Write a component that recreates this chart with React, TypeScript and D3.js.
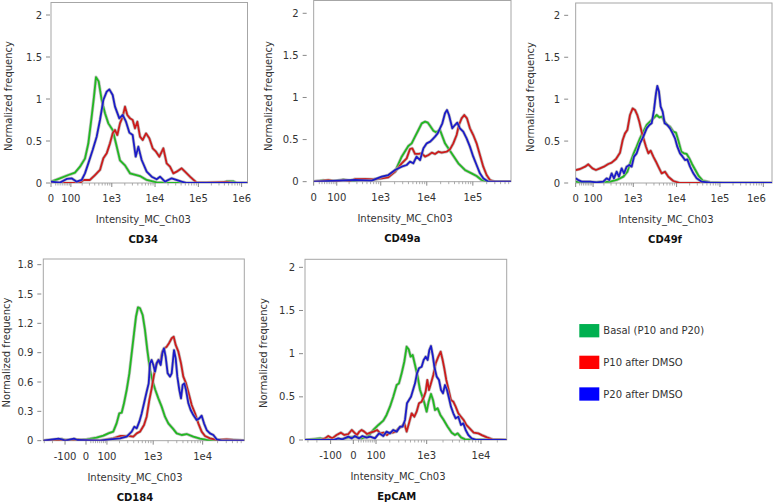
import React from "react";
import * as d3 from "d3";

// ---------------- DATA ----------------
const seriesNames = ["Basal (P10 and P20)", "P10 after DMSO", "P20 after DMSO"];
const panelTitles = ["CD34", "CD49a", "CD49f", "CD184", "EpCAM"];
const axisTitleX = "Intensity_MC_Ch03";
const axisTitleY = "Normalized frequency";

const ticksHigh = [0, 100, 1e3, 1e4, 1e5, 1e6];
const ticksHighLabels = ["0", "100", "1e3", "1e4", "1e5", "1e6"];
const ticksMid = [0, 100, 1e3, 1e4, 1e5];
const ticksMidLabels = ["0", "100", "1e3", "1e4", "1e5"];
const ticksLow = [-100, 0, 100, 1e3, 1e4];
const ticksLowLabels = ["-100", "0", "100", "1e3", "1e4"];
const yTicksA = [0, 0.5, 1, 1.5, 2];
const yTicksALabels = ["0", "0.5", "1", "1.5", "2"];
const yTicksB = [0, 0.3, 0.6, 0.9, 1.2, 1.5, 1.8];
const yTicksBLabels = ["0", "0.3", "0.6", "0.9", "1.2", "1.5", "1.8"];
const minorMultipliers = [2, 3, 4, 5, 6, 7, 8, 9];
const minorDecades = [10, 100, 1000, 10000, 100000];
const minorNegatives = [-200, -300];

// CD34
const cd34GreenX = [0,39,84,130,176,234,282,339,385,429,495,582,696,832,1048,1252,1548,2023,2640,4495,6407,10914,18549,378400,451500,643900,768700,1370000];
const cd34GreenY = [0.016,0.056,0.095,0.123,0.194,0.29,0.47,0.79,1.03,1.26,1.21,0.99,0.83,0.71,0.63,0.47,0.27,0.21,0.115,0.083,0.036,0.008,0,0,0.02,0.02,0,0];
const cd34RedX = [0,176,213,309,406,532,637,762,909,1048,1187,1345,1548,1788,2023,2291,2640,3042,3445,3900,4495,5178,6182,7379,8816,10527,12573,15547,18549,22163,26461,31596,41200,49217,64227,91522,155800,451500,643900,1370000];
const cd34RedY = [0,0,0.036,0.036,0.095,0.155,0.294,0.353,0.472,0.591,0.631,0.571,0.71,0.79,0.909,0.81,0.77,0.75,0.651,0.73,0.552,0.512,0.591,0.532,0.413,0.373,0.313,0.413,0.234,0.194,0.115,0.135,0.175,0.135,0.075,0.004,0.004,0.012,0,0];
const cd34BlueX = [0,39,74,105,145,194,234,282,358,445,532,637,762,878,1048,1187,1496,1788,2133,2548,3042,3571,4112,4910,6407,8362,10914,13031,16985,24206,41200,53760,1370000];
const cd34BlueY = [0.016,0.004,0.048,0.056,0.016,0.036,0.115,0.234,0.393,0.552,0.75,0.988,1.087,1.115,1.048,0.909,0.77,0.81,0.73,0.6,0.571,0.313,0.433,0.274,0.135,0.075,0.044,0.075,0.016,0.056,0.016,0,0];

// CD49a
const cd49aGreenX = [0,35,72,146,229,383,634,1047,1462,2043,2852,3976,4700,5554,6587,7780,9191,10546,11851,13892,15880,19362,24864,34650,48405,67305,93940,120645,154945,216300,674000];
const cd49aGreenY = [0,0.016,0,0.024,0.008,0.024,0.02,0.048,0.071,0.119,0.297,0.424,0.455,0.535,0.614,0.693,0.713,0.701,0.661,0.606,0.586,0.614,0.455,0.337,0.218,0.139,0.099,0.067,0.02,0,0];
const cd49aRedX = [0,29,56,99,146,209,272,452,690,1047,1462,2043,2852,3661,4316,4858,5554,6587,7780,9191,10906,12880,15106,17836,21063,27013,31885,37625,44450,49910,57050,65135,74500,86450,102130,120645,142555,168420,198975,235095,301910,674000];
const cd49aRedY = [0,0.008,0.02,0,0.02,0.008,0.032,0.032,0.028,0.04,0.052,0.119,0.218,0.277,0.388,0.396,0.329,0.329,0.337,0.297,0.317,0.345,0.329,0.356,0.345,0.356,0.384,0.455,0.554,0.673,0.752,0.792,0.752,0.634,0.554,0.455,0.317,0.178,0.079,0.02,0,0];
const cd49aBlueX = [0,272,634,1047,1462,2043,2852,3661,4316,5100,5996,7157,8456,9985,11851,13297,15106,17245,19362,21763,24864,27510,30331,35805,40915,45920,52465,61950,73185,86450,102130,120645,142555,168420,216300,674000];
const cd49aBlueY = [0,0.02,0.012,0.059,0.079,0.139,0.178,0.198,0.238,0.218,0.297,0.257,0.396,0.455,0.475,0.503,0.535,0.574,0.634,0.693,0.812,0.851,0.792,0.634,0.673,0.701,0.634,0.594,0.515,0.416,0.297,0.198,0.099,0.04,0,0];

// CD49f
const cd49fGreenX = [0,79,158,284,409,587,728,869,1039,1197,1430,1707,2039,2435,2905,3470,3996,4605,5300,6110,7040,8404,9675,11150,12850,14800,17050,19650,22635,27025,32260,39885,58890,119570,1585000];
const cd49fGreenY = [0.016,0,0.012,0.016,0.036,0.076,0.135,0.254,0.362,0.433,0.533,0.612,0.692,0.732,0.771,0.811,0.783,0.791,0.732,0.692,0.672,0.612,0.6,0.493,0.374,0.354,0.346,0.294,0.227,0.155,0.084,0.028,0.008,0,0];
const cd49fRedX = [0,22,49,68,95,122,158,200,258,311,394,491,567,642,728,839,968,1095,1240,1380,1560,1767,1966,2228,2520,2905,3346,3788,4521,5396,6439,8404,11976,20379,1585000];
const cd49fRedY = [0.155,0.167,0.195,0.223,0.175,0.155,0.175,0.195,0.227,0.243,0.286,0.362,0.513,0.592,0.632,0.811,0.89,0.871,0.811,0.731,0.612,0.513,0.433,0.354,0.386,0.314,0.254,0.195,0.115,0.135,0.075,0.024,0,0,0];
const cd49fBlueX = [0,13,30,79,128,193,234,272,311,353,409,464,537,608,702,810,917,1039,1197,1430,1707,2039,2350,2660,3008,3346,3591,3920,4286,4766,5300,6110,7040,8103,9174,10387,11976,13780,15604,17663,20379,24300,29010,37826,58890,1585000];
const cd49fBlueY = [0.056,0.036,0.016,0.016,0.008,0.016,0.056,0.036,0.115,0.056,0.135,0.076,0.175,0.115,0.195,0.215,0.195,0.314,0.354,0.473,0.553,0.652,0.692,0.712,0.871,1.07,1.157,1.09,0.911,0.851,0.712,0.692,0.652,0.592,0.533,0.433,0.354,0.314,0.274,0.282,0.195,0.115,0.056,0.016,0.004,0];

// CD184
const cd184GreenX = [-314,-146,-122,-90,-47,-25,3,45,79,109,144,172,198,223,250,285,325,363,406,446,490,539,611,681,760,861,976,1105,1271,1484,1733,2024,2482,2983,3766,4752,6477,8835,12056,69350];
const cd184GreenY = [0,0.007,0.017,0,0.014,0.007,0.014,0.031,0.051,0.075,0.092,0.177,0.28,0.286,0.382,0.518,0.689,0.893,1.098,1.268,1.364,1.354,1.285,1.132,0.927,0.723,0.604,0.518,0.433,0.348,0.245,0.177,0.126,0.075,0.058,0.068,0.041,0.02,0.007,0];
const cd184RedX = [-314,-42,61,144,205,309,393,461,539,651,737,835,931,1039,1140,1271,1373,1531,1681,1874,2086,2367,2596,2851,3230,3652,4066,4611,5218,6002,7005,8175,9548,11150,14062,19184,30536,69350];
const cd184RedY = [0,0.01,0,0.024,0.048,0.048,0.041,0.075,0.092,0.16,0.245,0.416,0.535,0.672,0.774,0.825,0.791,0.91,0.944,0.961,0.996,1.047,1.064,0.979,0.91,0.791,0.655,0.586,0.484,0.365,0.28,0.177,0.092,0.048,0.024,0.007,0.014,0];
const cd184BlueX = [-314,-146,-122,-100,-52,-36,61,120,205,285,363,412,461,522,583,651,737,810,861,931,1007,1088,1176,1292,1418,1531,1655,1787,1962,2190,2367,2637,2851,3078,3380,3652,3943,4265,4611,5138,5720,6477,7560,8562,9548,10640,12056,14062,16420,19184,24200,69350];
const cd184BlueY = [0,0.02,0.014,0,0.02,0.007,0,0.014,0.024,0.041,0.092,0.143,0.126,0.194,0.279,0.382,0.501,0.586,0.791,0.825,0.774,0.706,0.791,0.825,0.774,0.893,0.944,0.859,0.689,0.655,0.689,0.927,0.842,0.655,0.518,0.433,0.57,0.586,0.518,0.382,0.314,0.262,0.211,0.228,0.256,0.177,0.109,0.075,0.058,0.014,0,0];

// EpCAM
const epcamGreenX = [-341,-172,-147,-94,-46,-19,6,32,61,85,114,147,172,202,235,274,303,341,383,424,463,504,550,608,681,753,831,904,999,1087,1201,1308,1423,1593,1786,2058,2434,2891,3320,3723,4287,5084,29740];
const epcamGreenY = [0,0.019,0.012,0,0.008,0.031,0.039,0.019,0.046,0.116,0.174,0.224,0.29,0.386,0.502,0.637,0.656,0.772,0.907,1.081,1.05,0.965,0.985,0.869,0.734,0.579,0.502,0.432,0.328,0.444,0.533,0.463,0.347,0.367,0.29,0.232,0.154,0.085,0.058,0.077,0.031,0.008,0];
const epcamRedX = [-341,-172,-135,-114,-91,-69,-49,-35,-19,-6,4,14,23,32,43,55,70,87,106,126,150,175,199,228,261,299,341,383,424,469,526,591,652,720,807,891,958,1027,1103,1201,1326,1465,1640,1811,1969,2112,2300,2542,2801,3097,3419,3831,4287,4797,5370,6184,7339,8941,10588,12897,16164,29740];
const epcamRedY = [0,0,0.019,0.046,0.019,0.058,0.085,0.058,0.069,0.116,0.085,0.058,0.097,0.116,0.097,0.069,0.085,0.097,0.116,0.077,0.085,0.058,0.085,0.085,0.097,0.135,0.154,0.193,0.097,0.193,0.309,0.27,0.328,0.425,0.444,0.502,0.56,0.695,0.579,0.656,0.753,0.888,0.965,1.023,0.927,0.83,0.695,0.579,0.463,0.444,0.386,0.309,0.27,0.232,0.174,0.135,0.085,0.077,0.054,0.031,0.008,0];
const epcamBlueX = [-341,-159,-85,-61,-43,-19,-6,6,22,35,53,69,94,118,147,172,202,235,274,317,355,395,430,469,512,558,608,662,720,807,879,958,1043,1118,1201,1290,1384,1529,1687,1837,1999,2177,2370,2581,2801,3097,3419,3831,4287,4731,5226,5848,6733,8324,29740];
const epcamBlueY = [0,0,0,0.019,0.008,0.039,0.019,0.046,0.019,0.046,0.027,0.039,0.019,0.077,0.046,0.097,0.077,0.116,0.097,0.154,0.154,0.232,0.425,0.463,0.502,0.579,0.656,0.772,0.83,0.849,0.927,0.965,0.927,1.042,1.089,0.985,0.849,0.734,0.695,0.579,0.541,0.637,0.579,0.483,0.386,0.309,0.251,0.27,0.174,0.193,0.116,0.058,0.019,0,0];

// axis domains (intensity) per panel
const xDomains = [[0, 1367000], [0, 674000], [0, 1585000], [-314.5, 69350], [-341, 29740]];
const yMaxes = [2.149, 2.152, 2.147, 1.858, 2.093];

// ---------------- STYLE / LAYOUT ----------------
const lineColors = ["#22b822", "#cc1c1c", "#1c1cc8"];
const legendColors = ["#00b050", "#ff0000", "#0000ff"];
const FONT = "'DejaVu Sans', Verdana, sans-serif";
const SVG_W = 773;
const SVG_H = 504;

type Layout = {
  left: number; right: number; top: number; bottom: number; c: number;
  labelX: number; titleX: number; yTitleX: number; yTitleY: number; yGap: number;
};
const layouts: Layout[] = [
  { left: 51, right: 247.5, top: 2.5, bottom: 183, c: 79, labelX: 143.3, titleX: 143.3, yTitleX: 8, yTitleY: 96, yGap: 9 },
  { left: 313.67, right: 511, top: 0.5, bottom: 181.67, c: 70, labelX: 405, titleX: 402.3, yTitleX: 268.3, yTitleY: 96, yGap: 15 },
  { left: 575.67, right: 772, top: 3, bottom: 183, c: 94, labelX: 666, titleX: 665, yTitleX: 530, yTitleY: 97, yGap: 15.5 },
  { left: 43.3, right: 244.3, top: 259, bottom: 440.67, c: 88, labelX: 135, titleX: 135, yTitleX: 6.7, yTitleY: 352.5, yGap: 10 },
  { left: 305, right: 506.7, top: 259.3, bottom: 440, c: 89.5, labelX: 398, titleX: 396.7, yTitleX: 263.3, yTitleY: 353, yGap: 10 },
];

const panelSeries = [
  [[cd34GreenX, cd34GreenY], [cd34RedX, cd34RedY], [cd34BlueX, cd34BlueY]],
  [[cd49aGreenX, cd49aGreenY], [cd49aRedX, cd49aRedY], [cd49aBlueX, cd49aBlueY]],
  [[cd49fGreenX, cd49fGreenY], [cd49fRedX, cd49fRedY], [cd49fBlueX, cd49fBlueY]],
  [[cd184GreenX, cd184GreenY], [cd184RedX, cd184RedY], [cd184BlueX, cd184BlueY]],
  [[epcamGreenX, epcamGreenY], [epcamRedX, epcamRedY], [epcamBlueX, epcamBlueY]],
];
const panelXTicks = [ticksHigh, ticksMid, ticksHigh, ticksLow, ticksLow];
const panelXTickLabels = [ticksHighLabels, ticksMidLabels, ticksHighLabels, ticksLowLabels, ticksLowLabels];
const panelYTicks = [yTicksA, yTicksA, yTicksA, yTicksB, yTicksA];
const panelYTickLabels = [yTicksALabels, yTicksALabels, yTicksALabels, yTicksBLabels, yTicksALabels];

function makeScales(idx: number) {
  const L = layouts[idx];
  const [xmin, xmax] = xDomains[idx];
  const t = (v: number) => Math.asinh(v / L.c);
  const xs = d3.scaleLinear().domain([t(xmin), t(xmax)]).range([L.left, L.right]);
  const x = (v: number) => xs(t(v));
  const y = d3.scaleLinear().domain([0, yMaxes[idx]]).range([L.bottom, L.top]);
  return { x, y, xmin, xmax };
}

function Panel({ idx }: { idx: number }) {
  const L = layouts[idx];
  const { x, y, xmin, xmax } = makeScales(idx);
  const line = d3
    .line<[number, number]>()
    .x((d) => x(d[0]))
    .y((d) => y(d[1]));

  const minor: number[] = [];
  minorDecades.forEach((dec) =>
    minorMultipliers.forEach((m) => {
      const v = m * dec;
      if (v > xmin && v < xmax) minor.push(v);
    })
  );
  minorNegatives.forEach((v) => {
    if (v > xmin) minor.push(v);
  });

  const clipId = `clip${idx}`;
  const ticks = panelXTicks[idx];
  const yt = panelYTicks[idx];

  return (
    <g>
      <defs>
        <clipPath id={clipId}>
          <rect x={L.left} y={L.top} width={L.right - L.left} height={L.bottom - L.top} />
        </clipPath>
      </defs>
      <rect x={L.left} y={L.top} width={L.right - L.left} height={L.bottom - L.top} fill="#fff" stroke="#a6a6a6" strokeWidth={1} />
      <g>
        {yt.map((v, i) => (
          <line key={i} x1={L.left - L.yGap + 4} x2={L.left - L.yGap + 8} y1={y(v)} y2={y(v)} stroke="#888" strokeWidth={1} />
        ))}
      </g>
      <g>
        {minor.map((v, i) => (
          <line key={i} x1={x(v)} x2={x(v)} y1={L.bottom} y2={L.bottom + 2.5} stroke="#999" strokeWidth={0.8} />
        ))}
      </g>
      <g>
        {ticks.map((v, i) => (
          <line key={i} x1={x(v)} x2={x(v)} y1={L.bottom} y2={L.bottom + 4} stroke="#888" strokeWidth={1} />
        ))}
      </g>
      <g clipPath={`url(#${clipId})`}>
        {panelSeries[idx].map(([sx, sy], si) => {
          const pts = sx.map((v, i) => [v, sy[i]] as [number, number]);
          const d = line(pts) || "";
          return (
            <g key={si}>
              <path d={d} fill="none" stroke="#aaa" strokeOpacity={0.7} strokeWidth={3.2} strokeLinejoin="round" />
              <path d={d} fill="none" stroke={lineColors[si]} strokeWidth={1.8} strokeLinejoin="round" />
            </g>
          );
        })}
      </g>
    </g>
  );
}

function PanelText({ idx }: { idx: number }) {
  const L = layouts[idx];
  const { y } = makeScales(idx);
  const yt = panelYTicks[idx];
  const ytl = panelYTickLabels[idx];
  return (
    <g fontFamily={FONT} fontSize={10} fill="#333">
      {yt.map((v, i) => (
        <text key={"yl" + i} x={L.left - L.yGap} y={y(v) + 3.5} textAnchor="end">
          {ytl[i]}
        </text>
      ))}
      <text x={L.labelX} y={L.bottom + 40} textAnchor="middle">
        {axisTitleX}
      </text>
      <text x={L.titleX} y={L.bottom + 60} textAnchor="middle" fontWeight="bold" fill="#111">
        {panelTitles[idx]}
      </text>
      <text transform={`translate(${L.yTitleX + 3.5},${L.yTitleY}) rotate(-90)`} textAnchor="middle">
        {axisTitleY}
      </text>
    </g>
  );
}

// x tick labels drawn imperatively with d3
function XTickLabels() {
  const ref = React.useRef<SVGGElement>(null);
  React.useEffect(() => {
    if (!ref.current) return;
    const g = d3.select(ref.current);
    g.selectAll("*").remove();
    layouts.forEach((L, idx) => {
      const { x } = makeScales(idx);
      const ticks = panelXTicks[idx];
      const labels = panelXTickLabels[idx];
      ticks.forEach((v, i) => {
        const half = labels[i].length * 3.2;
        const px = Math.min(x(v), SVG_W - 7 - half);
        g.append("text")
          .attr("x", px)
          .attr("y", L.bottom + 19)
          .attr("text-anchor", "middle")
          .text(labels[i]);
      });
    });
  }, []);
  return <g ref={ref} fontFamily={FONT} fontSize={10} fill="#333" />;
}

const legendLayout = { swatchX: 579.3, swatchW: 20, swatchH: 13.3, firstCy: 330.7, step: 31.65, textX: 603.3 };

export default function App() {
  return (
    <svg width={SVG_W} height={SVG_H} style={{ position: "absolute", left: 0, top: 0, background: "#fff" }}>
      <rect x={0} y={0} width={SVG_W} height={SVG_H} fill="#fff" />
      {layouts.map((_, i) => (
        <Panel key={"p" + i} idx={i} />
      ))}
      {layouts.map((_, i) => (
        <PanelText key={"t" + i} idx={i} />
      ))}
      <XTickLabels />
      {seriesNames.map((name, i) => {
        const cy = legendLayout.firstCy + i * legendLayout.step;
        return (
          <g key={name}>
            <rect
              x={legendLayout.swatchX}
              y={cy - legendLayout.swatchH / 2}
              width={legendLayout.swatchW}
              height={legendLayout.swatchH}
              fill={legendColors[i]}
            />
            <text x={legendLayout.textX} y={cy + 3.5} fontSize={10} fill="#333" fontFamily={FONT}>
              {name}
            </text>
          </g>
        );
      })}
    </svg>
  );
}
